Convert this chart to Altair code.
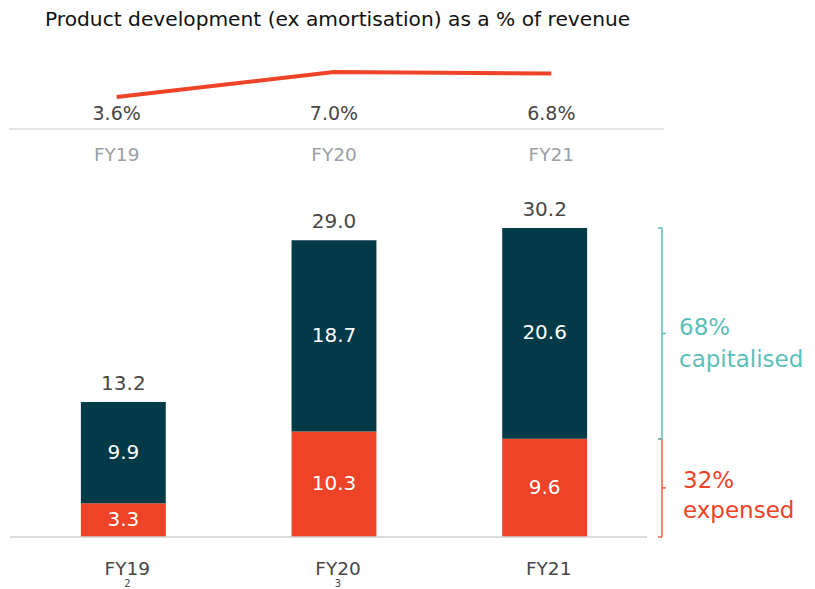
import altair as alt
import pandas as pd

# ---- data ----
years = ["FY19", "FY20", "FY21"]
expensed = [3.3, 10.3, 9.6]
capitalised = [9.9, 18.7, 20.6]
totals = [13.2, 29.0, 30.2]
pct_revenue = [3.6, 7.0, 6.8]
pct_labels = ["3.6%", "7.0%", "6.8%"]
footnotes = ["2", "3", ""]
title_text = "Product development (ex amortisation) as a % of revenue"
cap_label = ["68%", "capitalised"]
exp_label = ["32%", "expensed"]

NAVY = "#033a48"
RED = "#ee4327"
TEAL = "#5bbfb9"
DARK = "#474747"
GREY = "#9aa0a6"
FONT = "DejaVu Sans"

# ---- tables ----
seg_rows = []
for y, e, c, t in zip(years, expensed, capitalised, totals):
    seg_rows.append({"year": y, "seg": "expensed", "start": 0.0, "end": e, "label": f"{e:.1f}"})
    seg_rows.append({"year": y, "seg": "capitalised", "start": e, "end": t, "label": f"{c:.1f}"})
seg = pd.DataFrame(seg_rows)
seg["mid"] = (seg["start"] + seg["end"]) / 2

tot = pd.DataFrame({"year": years, "total": totals, "total_label": [f"{t:.1f}" for t in totals],
                    "foot": footnotes})
top = pd.DataFrame({"year": years, "pct": pct_revenue, "pct_label": pct_labels})

last = len(years) - 1
brackets = pd.DataFrame({
    "seg": ["capitalised", "expensed"],
    "start": [expensed[last], 0.0],
    "end": [totals[last], expensed[last]],
})
brackets["mid"] = (brackets["start"] + brackets["end"]) / 2

# ---- scales ----
x_top = alt.X("year:N", scale=alt.Scale(type="point", domain=years, padding=0.5), axis=None)
y_top = alt.Y("pct:Q", scale=alt.Scale(domain=[-56.24, 8.904], nice=False, zero=False), axis=None)

x_bar = alt.X("year:N", scale=alt.Scale(type="band", domain=years, paddingInner=0.597, paddingOuter=0.346), axis=None)
y_dom = alt.Scale(domain=[0, 46.82], nice=False, zero=False)
seg_color = alt.Color("seg:N", scale=alt.Scale(domain=["capitalised", "expensed"], range=[NAVY, RED]), legend=None)
br_stroke = alt.Stroke("seg:N", scale=alt.Scale(domain=["capitalised", "expensed"], range=[TEAL, "#f0604a"]), legend=None)

one = pd.DataFrame({"a": [0]})

# ---- top panel ----
title = alt.Chart(pd.DataFrame({"t": [title_text]})).mark_text(
    align="left", baseline="alphabetic", font=FONT, fontSize=20.2, color="#111111"
).encode(text="t:N", x=alt.value(37), y=alt.value(-32))

divider = alt.Chart(one).mark_rule(color="#dcdcdc", strokeWidth=1.5).encode(
    x=alt.value(1), x2=alt.value(656), y=alt.value(71))

line = alt.Chart(top).mark_line(color=RED, strokeWidth=4).encode(x=x_top, y=y_top)

pct_text = alt.Chart(top).mark_text(font=FONT, fontSize=19, color=DARK, baseline="middle").encode(
    x=x_top, y=alt.value(56), text="pct_label:N")

cat_text = alt.Chart(top).mark_text(font=FONT, fontSize=18.5, color=GREY, baseline="middle").encode(
    x=x_top, y=alt.value(97), text="year:N")

top_layer = alt.layer(line, pct_text, cat_text, title, divider)

# ---- bottom panel ----
baseline = alt.Chart(one).mark_rule(color="#cfcfcf", strokeWidth=1.5).encode(
    x=alt.value(2), x2=alt.value(639), y=alt.value(479))

bars = alt.Chart(seg).mark_bar().encode(
    x=x_bar, y=alt.Y("start:Q", scale=y_dom, axis=None), y2="end:Q", color=seg_color)

seg_text = alt.Chart(seg).mark_text(font=FONT, fontSize=20, color="white", baseline="middle").encode(
    x=x_bar, y=alt.Y("mid:Q", scale=y_dom, axis=None), text="label:N")

tot_text = alt.Chart(tot).mark_text(font=FONT, fontSize=20, color=DARK, baseline="alphabetic", dy=-12).encode(
    x=x_bar, y=alt.Y("total:Q", scale=y_dom, axis=None), text="total_label:N")

x_labels = alt.Chart(tot).mark_text(font=FONT, fontSize=18.5, color=DARK, baseline="alphabetic", dx=4).encode(
    x=x_bar, y=alt.value(517), text="year:N")

foot_text = alt.Chart(tot).mark_text(font=FONT, fontSize=10, color=DARK, baseline="alphabetic", dx=4).encode(
    x=x_bar, y=alt.value(529), text="foot:N")

br_vert = alt.Chart(brackets).mark_rule(strokeWidth=1.5).encode(
    x=alt.value(654), y=alt.Y("start:Q", scale=y_dom, axis=None), y2="end:Q", stroke=br_stroke)
br_top = alt.Chart(brackets).mark_rule(strokeWidth=1.5).encode(
    x=alt.value(650), x2=alt.value(654), y=alt.Y("end:Q", scale=y_dom, axis=None), stroke=br_stroke)
br_bot = alt.Chart(brackets).mark_rule(strokeWidth=1.5).encode(
    x=alt.value(650), x2=alt.value(654), y=alt.Y("start:Q", scale=y_dom, axis=None), stroke=br_stroke)
br_mid = alt.Chart(brackets).mark_rule(strokeWidth=1.5).encode(
    x=alt.value(654), x2=alt.value(658), y=alt.Y("mid:Q", scale=y_dom, axis=None), stroke=br_stroke)

cap_text = alt.Chart(one).mark_text(
    font=FONT, fontSize=23, color=TEAL, align="left", baseline="alphabetic", lineHeight=32
).encode(x=alt.value(671), y=alt.value(277), text=alt.value(cap_label))

exp_text = alt.Chart(one).mark_text(
    font=FONT, fontSize=23, color=RED, align="left", baseline="alphabetic", lineHeight=30
).encode(x=alt.value(675), y=alt.value(430), text=alt.value(exp_label))

bottom_layer = alt.layer(bars, seg_text, tot_text, x_labels, foot_text,
                         br_vert, br_top, br_bot, br_mid, baseline, cap_text, exp_text)

chart = alt.layer(top_layer, bottom_layer).resolve_scale(
    x="independent", y="independent"
).properties(
    width=652, height=479,
    autosize=alt.AutoSizeParams(type="none"),
    padding={"left": 0, "top": 50, "right": 147, "bottom": 52},
).configure_view(stroke=None)

chart.save("out.html", embed_options={"renderer": "svg", "actions": False})
